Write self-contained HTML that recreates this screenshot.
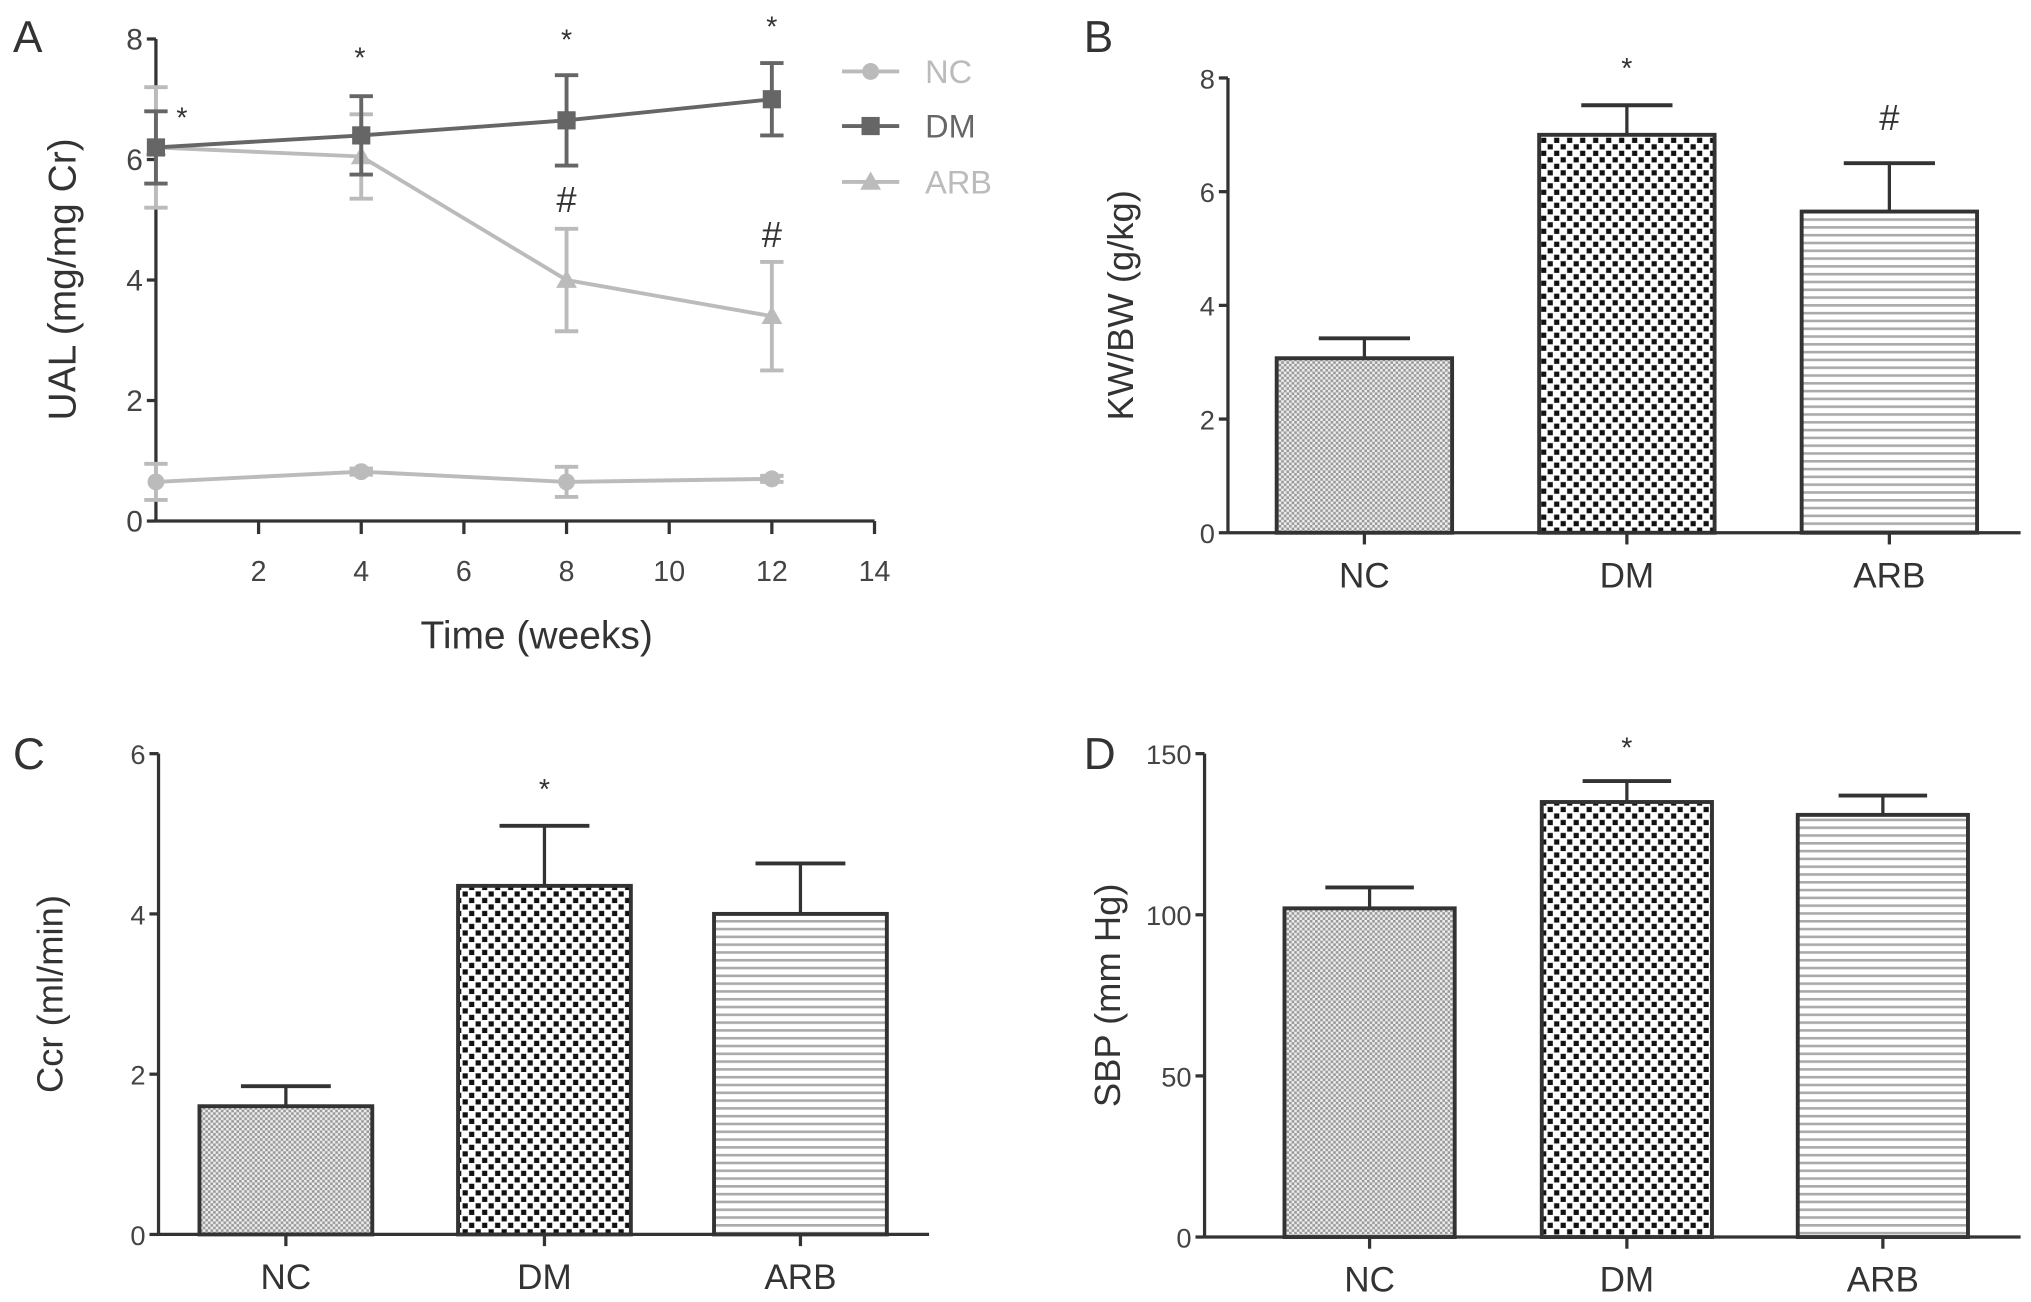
<!DOCTYPE html>
<html><head><meta charset="utf-8">
<style>
html,body{margin:0;padding:0;background:#fff;}
svg{display:block;}
text{font-family:"Liberation Sans",sans-serif;}
</style></head>
<body>
<svg id="fig" width="2031" height="1302" viewBox="0 0 1563 1002" preserveAspectRatio="none" xmlns="http://www.w3.org/2000/svg">
<defs>
<pattern id="pNC" width="4" height="4" patternUnits="userSpaceOnUse"><rect width="4" height="4" fill="#eee"/><rect width="2" height="2" fill="#999"/><rect x="2" y="2" width="2" height="2" fill="#999"/></pattern>
<pattern id="pDM" width="10" height="10" patternUnits="userSpaceOnUse"><rect width="10" height="10" fill="#fff"/><rect x="1" y="1" width="4" height="4" fill="#111"/><rect x="6" y="6" width="4" height="4" fill="#111"/></pattern>
<pattern id="pARB" width="6" height="6" patternUnits="userSpaceOnUse"><rect width="6" height="6" fill="#fff"/><rect y="0" width="6" height="2" fill="#aaa"/></pattern>
</defs>
<g id="root"></g>
</svg>
<script>
// Panel A data
const weeks=[0,4,8,12];
const ncVals=[0.65,0.82,0.65,0.7];
const ncErr=[0.3,0.05,0.25,0.05];
const dmVals=[6.2,6.4,6.65,7.0];
const dmErr=[0.6,0.65,0.75,0.6];
const arbVals=[6.2,6.05,4.0,3.4];
const arbErr=[1.0,0.7,0.85,0.9];
const aXTicks=[2,4,6,8,10,12,14];
const aYTicks=[0,2,4,6,8];
// Bar panels data
const groups=["NC","DM","ARB"];
const kwVals=[3.07,7.0,5.65];
const kwErr=[0.35,0.52,0.85];
const kwTicks=[0,2,4,6,8];
const ccrVals=[1.6,4.35,4.0];
const ccrErr=[0.25,0.75,0.63];
const ccrTicks=[0,2,4,6];
const sbpVals=[102,135,131];
const sbpErr=[6.5,6.5,6];
const sbpTicks=[0,50,100,150];

const NS="http://www.w3.org/2000/svg";
const root=document.getElementById('root');
function el(tag,attrs,parent,txt){const e=document.createElementNS(NS,tag);for(const k in attrs)e.setAttribute(k,attrs[k]);if(txt!==undefined)e.textContent=txt;(parent||root).appendChild(e);return e;}
const AX="#333";

// ---- Panel A ----
const gA=el('g',{});


const ax0=120,axW=(673-120)/14,ay0=401,ayU=(401-30)/8;
const xA=v=>ax0+v*axW, yA=v=>ay0-v*ayU;
el('line',{x1:xA(0),y1:yA(0),x2:xA(14),y2:yA(0),stroke:AX,'stroke-width':2.5},gA);
el('line',{x1:xA(0),y1:yA(0),x2:xA(0),y2:yA(8),stroke:AX,'stroke-width':2.5},gA);
aXTicks.forEach(t=>{el('line',{x1:xA(t),y1:yA(0),x2:xA(t),y2:yA(0)+10,stroke:AX,'stroke-width':2.5},gA);
 const tx=el('text',{x:xA(t),y:447,'font-size':22,fill:'#444','text-anchor':'middle'},gA,t);
 });
aYTicks.forEach(t=>{el('line',{x1:xA(0)-7,y1:yA(t),x2:xA(0),y2:yA(t),stroke:AX,'stroke-width':2.5},gA);
 const tx=el('text',{x:xA(0)-10,y:yA(t)+8,'font-size':23,fill:'#444','text-anchor':'end'},gA,t);
 });
const tA=el('text',{x:413,y:499,'font-size':30,fill:'#333','text-anchor':'middle'},gA,'Time (weeks)');

const yAt=el('text',{x:0,y:0,'font-size':30,fill:'#333','text-anchor':'middle',transform:'translate(58,215) rotate(-90)'},gA,'UAL (mg/mg Cr)');

const lA=el('text',{x:10,y:40,'font-size':34,fill:'#333'},gA,'A');

function series(vals,errs,color,marker,name){
 const g=el('g',{},gA);
 
 el('polyline',{points:vals.map((v,i)=>xA(weeks[i])+','+yA(v)).join(' '),fill:'none',stroke:color,'stroke-width':3},g);
 vals.forEach((v,i)=>{const x=xA(weeks[i]);
  el('line',{x1:x,y1:yA(v-errs[i]),x2:x,y2:yA(v+errs[i]),stroke:color,'stroke-width':3},g);
  [v-errs[i],v+errs[i]].forEach(e=>el('line',{x1:x-9,y1:yA(e),x2:x+9,y2:yA(e),stroke:color,'stroke-width':3},g));
  const y=yA(v);let m;
  if(marker==='c')m=el('circle',{cx:x,cy:y,r:6.5,fill:color},g);
  else if(marker==='s')m=el('rect',{x:x-7,y:y-7,width:14,height:14,fill:color},g);
  else m=el('polygon',{points:`${x},${y-8} ${x-8},${y+6} ${x+8},${y+6}`,fill:color},g);
  
 });
}
series(ncVals,ncErr,'#bbb','c','nc');
series(arbVals,arbErr,'#bbb','t','arb');
series(dmVals,dmErr,'#666','s','dm');
[[140,98,'*'],[277,52,'*'],[436,38,'*'],[594,28,'*']].forEach(a=>{const t=el('text',{x:a[0],y:a[1],'font-size':22,fill:'#333','text-anchor':'middle'},gA,a[2]);});
[[436,163],[594,190]].forEach(a=>{const t=el('text',{x:a[0],y:a[1],'font-size':28,fill:'#333','text-anchor':'middle'},gA,'#');});
[['NC','#bbb','c',55],['DM','#666','s',97],['ARB','#bbb','t',140]].forEach(l=>{
 const g=el('g',{},gA);
 el('line',{x1:648,y1:l[3],x2:692,y2:l[3],stroke:l[1],'stroke-width':3},g);
 const x=670,y=l[3];
 if(l[2]==='c')el('circle',{cx:x,cy:y,r:6.5,fill:l[1]},g);
 else if(l[2]==='s')el('rect',{x:x-7,y:y-7,width:14,height:14,fill:l[1]},g);
 else el('polygon',{points:`${x},${y-8} ${x-8},${y+6} ${x+8},${y+6}`,fill:l[1]},g);
 el('text',{x:712,y:y+9,'font-size':25,fill:l[1]},g,l[0]);
});

// ---- Bar panels ----
function barPanel(o){
 const g=el('g',{});
 
 const y=v=>o.y0-(v/o.max)*(o.y0-o.yTop);
 el('line',{x1:o.x0,y1:o.y0,x2:o.xEnd,y2:o.y0,stroke:AX,'stroke-width':2.5},g);
 el('line',{x1:o.x0,y1:o.y0,x2:o.x0,y2:o.yTop,stroke:AX,'stroke-width':2.5},g);
 o.ticks.forEach(t=>{el('line',{x1:o.x0-7,y1:y(t),x2:o.x0,y2:y(t),stroke:AX,'stroke-width':2.5},g);
  const tx=el('text',{x:o.x0-10,y:y(t)+8,'font-size':21,fill:'#444','text-anchor':'end'},g,t);
  });
 const pats=['url(#pNC)','url(#pDM)','url(#pARB)'];
 groups.forEach((c,i)=>{const cx=o.centers[i],w=o.bw;
  const top=y(o.vals[i]),et=y(o.vals[i]+o.errs[i]);
  el('line',{x1:cx,y1:top,x2:cx,y2:et,stroke:AX,'stroke-width':2.5},g);
  el('line',{x1:cx-w*0.26,y1:et,x2:cx+w*0.26,y2:et,stroke:AX,'stroke-width':3},g);
  const r=el('rect',{x:cx-w/2,y:top,width:w,height:o.y0-top,fill:pats[i],stroke:AX,'stroke-width':3},g);
  
  el('line',{x1:cx,y1:o.y0,x2:cx,y2:o.y0+9,stroke:AX,'stroke-width':2.5},g);
  const tx=el('text',{x:cx,y:o.y0+42,'font-size':27,fill:'#333','text-anchor':'middle'},g,c);
  
 });
 const yt=el('text',{x:0,y:0,'font-size':28,fill:'#333','text-anchor':'middle',transform:`translate(${o.ylx},${(o.y0+o.yTop)/2}) rotate(-90)`},g,o.ylabel);
 
 const pl=el('text',{x:o.lx,y:o.ly,'font-size':34,fill:'#333'},g,o.label);
 
 (o.marks||[]).forEach(m=>{const t=el('text',{x:o.centers[m[0]],y:m[2],'font-size':m[1]==='#'?28:22,fill:'#333','text-anchor':'middle'},g,m[1]);
  });
}
barPanel({name:'panel-b-bar-chart',label:'B',lx:834,ly:40,x0:945,xEnd:1555,y0:410,yTop:60,max:8,ticks:kwTicks,vals:kwVals,errs:kwErr,centers:[1050,1252,1454],bw:135,ylabel:'KW/BW (g/kg)',ylx:872,marks:[[1,'*',60],[2,'#',100]]});
barPanel({name:'panel-c-bar-chart',label:'C',lx:10,ly:592,x0:122,xEnd:715,y0:950,yTop:580,max:6,ticks:ccrTicks,vals:ccrVals,errs:ccrErr,centers:[220,419,616],bw:133,ylabel:'Ccr (ml/min)',ylx:48,marks:[[1,'*',615]]});
barPanel({name:'panel-d-bar-chart',label:'D',lx:834,ly:592,x0:927,xEnd:1555,y0:952,yTop:580,max:150,ticks:sbpTicks,vals:sbpVals,errs:sbpErr,centers:[1054,1252,1449],bw:131,ylabel:'SBP (mm Hg)',ylx:862,marks:[[1,'*',583]]});
</script>
</body></html>
